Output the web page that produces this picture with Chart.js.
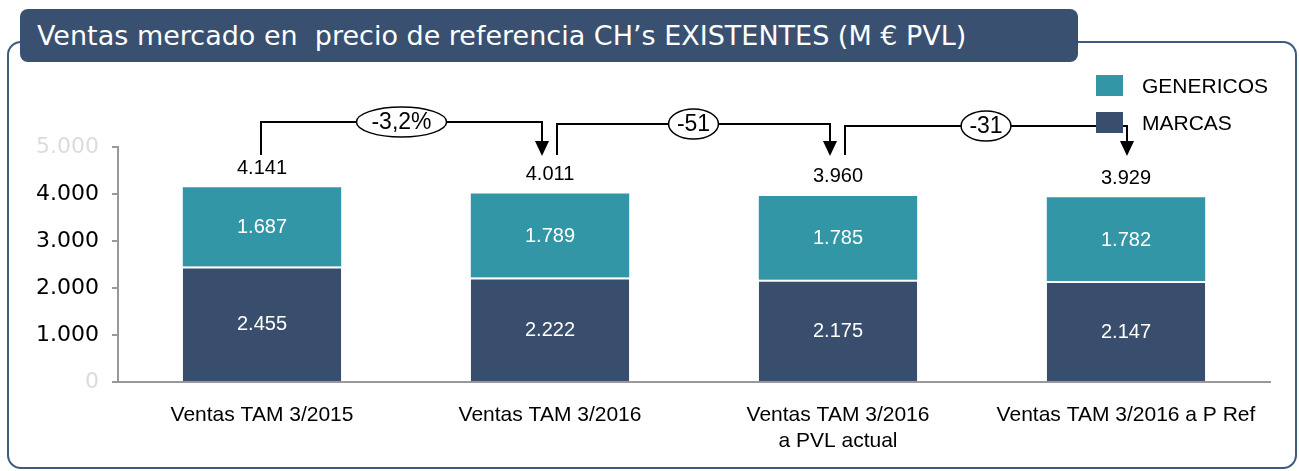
<!DOCTYPE html>
<html>
<head>
<meta charset="utf-8">
<script src="https://cdn.jsdelivr.net/npm/chart.js@4.4.1/dist/chart.umd.min.js"></script>
<style>
  html, body { margin: 0; padding: 0; background: #fff; }
  #wrap { position: relative; width: 1299px; height: 471px; overflow: hidden; }
  #panel {
    position: absolute; left: 7px; top: 41px; width: 1290px; height: 428px;
    box-sizing: border-box; border: 2px solid #3e5a7e; border-radius: 14px;
  }
  #title {
    position: absolute; left: 20px; top: 9px; width: 1058px; height: 53px;
    background: #3a5070; border-radius: 8px; color: #fff;
    font-family: 'DejaVu Sans', sans-serif; font-size: 27px; line-height: 53px;
    padding-left: 17px; box-sizing: border-box; white-space: pre;
  }
  #chart { position: absolute; left: 0; top: 0; }
  #legend { position: absolute; left: 1096px; top: 75px; }
  .item { position: relative; height: 37px; }
  .box { position: absolute; left: 0; top: 0; width: 27px; height: 21px; }
  .txt {
    position: absolute; left: 46px; top: -2px; line-height: 25px; white-space: nowrap;
    font-family: 'Liberation Sans', Arial, sans-serif; font-size: 21px; color: #000;
  }
</style>
</head>
<body>
<div id="wrap">
  <div id="panel"></div>
  <div id="title">Ventas mercado en  precio de referencia CH’s EXISTENTES (M € PVL)</div>
  <canvas id="chart" width="1299" height="471"></canvas>
  <div id="legend"></div>
</div>
<script>
// datos
const categorias = ['Ventas TAM 3/2015', 'Ventas TAM 3/2016', ['Ventas TAM 3/2016', 'a PVL actual'], 'Ventas TAM 3/2016 a P Ref'];
const marcas = [2455, 2222, 2175, 2147];
const genericos = [1687, 1789, 1785, 1782];
const totales = [4141, 4011, 3960, 3929];
const variaciones = ['-3,2%', '-51', '-31'];
const ticksY = [0, 1000, 2000, 3000, 4000, 5000];

const azul = '#394d6d';
const turquesa = '#3396a6';

// separador de miles con punto
function fmt(v) {
    return String(v).replace(/\B(?=(\d{3})+(?!\d))/g, '.');
}

// etiquetas, totales y flechas de variacion
const etiquetasPlugin = {
    id: 'etiquetas',
    afterDatasetsDraw(chart) {
        const ctx = chart.ctx;
        const area = chart.chartArea;
        ctx.save();
        ctx.textAlign = 'center';
        ctx.textBaseline = 'middle';

        // valores dentro de cada segmento
        ctx.font = '20px "Liberation Sans", Arial, sans-serif';
        ctx.fillStyle = '#fff';
        chart.data.datasets.forEach((ds, d) => {
            chart.getDatasetMeta(d).data.forEach((bar, i) => {
                ctx.fillText(fmt(ds.data[i]), bar.x, (bar.y + bar.base) / 2 + 1);
            });
        });

        // totales encima
        ctx.fillStyle = '#000';
        const arriba = chart.getDatasetMeta(chart.data.datasets.length - 1).data;
        arriba.forEach((bar, i) => {
            ctx.fillText(fmt(totales[i]), bar.x, bar.y - 19);
        });

        // corchetes con flecha
        ctx.strokeStyle = '#000';
        ctx.fillStyle = '#000';
        ctx.lineWidth = 2;
        const base = area.top + 8;
        variaciones.forEach((txt, i) => {
            const x1 = arriba[i].x + (i === 0 ? -1 : 7);
            const x2 = arriba[i + 1].x - (i === 2 ? -1 : 8);
            const yl = area.top - 25 + i * 2;
            ctx.beginPath();
            ctx.moveTo(x1, base);
            ctx.lineTo(x1, yl);
            ctx.lineTo(x2, yl);
            ctx.lineTo(x2, base - 12);
            ctx.stroke();
            ctx.beginPath();
            ctx.moveTo(x2 - 7, base - 14);
            ctx.lineTo(x2 + 7, base - 14);
            ctx.lineTo(x2, base + 1);
            ctx.closePath();
            ctx.fill();

            // elipse con la etiqueta
            ctx.font = '23px "Liberation Sans", Arial, sans-serif';
            const w = ctx.measureText(txt).width;
            const cx = (x1 + x2) / 2;
            ctx.beginPath();
            ctx.ellipse(cx, yl, w * 0.75, 15, 0, 0, Math.PI * 2);
            ctx.fillStyle = '#fff';
            ctx.fill();
            ctx.lineWidth = 1.5;
            ctx.stroke();
            ctx.lineWidth = 2;
            ctx.fillStyle = '#000';
            ctx.fillText(txt, cx, yl + 1);
        });
        ctx.restore();
    }
};

const ctx = document.getElementById('chart').getContext('2d');
const chart = new Chart(ctx, {
    type: 'bar',
    data: {
        labels: categorias,
        datasets: [{
            label: 'MARCAS',
            data: marcas,
            backgroundColor: azul,
            borderColor: '#fff',
            borderWidth: { top: 2, left: 0, right: 0, bottom: 0 },
            barPercentage: 0.55,
            categoryPercentage: 1
        }, {
            label: 'GENERICOS',
            data: genericos,
            backgroundColor: turquesa,
            borderWidth: 0,
            barPercentage: 0.55,
            categoryPercentage: 1
        }]
    },
    options: {
        responsive: false,
        animation: false,
        layout: { padding: { left: 0, right: 29, top: 147, bottom: 0 } },
        plugins: {
            legend: { display: false },
            tooltip: { enabled: false }
        },
        scales: {
            x: {
                stacked: true,
                grid: { display: false },
                border: { color: '#999', width: 2 },
                ticks: {
                    color: '#000',
                    padding: 13,
                    maxRotation: 0,
                    autoSkip: false,
                    font: { family: '"Liberation Sans", Arial, sans-serif', size: 21, lineHeight: 1.2 }
                },
                afterFit(scale) { scale.height = 89; }
            },
            y: {
                stacked: true,
                min: 0,
                max: 5000,
                afterBuildTicks(scale) { scale.ticks = ticksY.map(v => ({ value: v })); },
                grid: { drawOnChartArea: false, drawTicks: true, tickLength: 6, color: '#999', lineWidth: 2 },
                border: { color: '#999', width: 2 },
                ticks: {
                    padding: 13,
                    font: { family: '"DejaVu Sans", Verdana, sans-serif', size: 22 },
                    color: (c) => (c.tick.value === 0 || c.tick.value === 5000) ? '#dcdcdc' : '#000',
                    callback: (v) => fmt(v)
                },
                afterFit(scale) { scale.width = 118; }
            }
        }
    },
    plugins: [etiquetasPlugin]
});

// leyenda (GENERICOS arriba)
const leyenda = document.getElementById('legend');
chart.data.datasets.slice().reverse().forEach(ds => {
    const item = document.createElement('div');
    item.className = 'item';
    item.innerHTML = `<div class="box" style="background:${ds.backgroundColor}"></div><div class="txt">${ds.label}</div>`;
    leyenda.appendChild(item);
});
</script>
</body>
</html>
